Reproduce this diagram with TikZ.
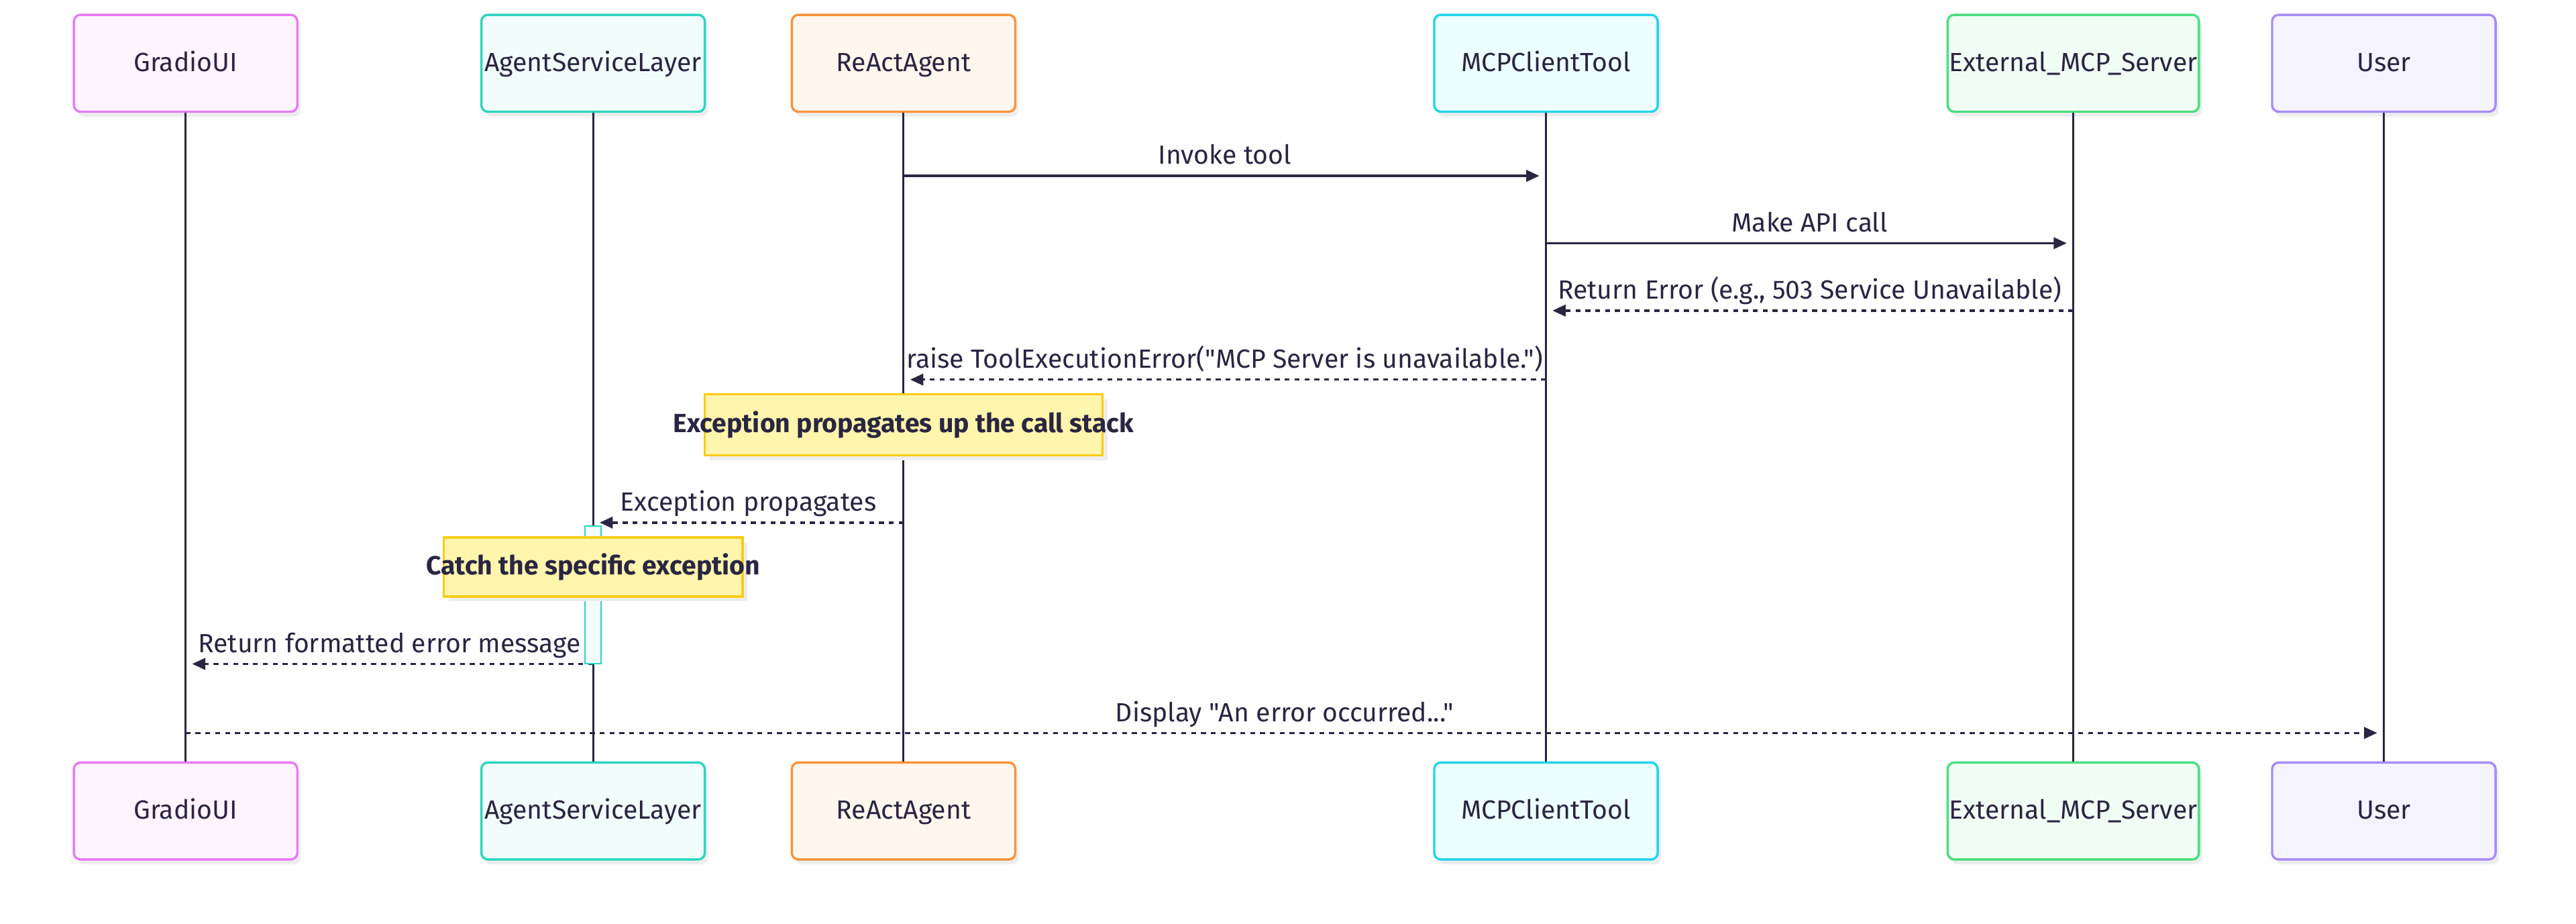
\documentclass[tikz,border=0pt]{standalone}
\usepackage{fontspec}
\setmainfont{Fira Sans}[Ligatures=TeXOff]
\usetikzlibrary{arrows.meta,shadows}
\definecolor{encre}{HTML}{2A2541}
\definecolor{ombre}{HTML}{EDEDED}
\definecolor{noteFond}{HTML}{FFF5AD}
\definecolor{noteBord}{HTML}{FACC15}
\definecolor{gradioBord}{HTML}{E879F9}\definecolor{gradioFond}{HTML}{FDF4FF}
\definecolor{agentBord}{HTML}{2DD4BF}\definecolor{agentFond}{HTML}{F0FDFA}
\definecolor{reactBord}{HTML}{FB923C}\definecolor{reactFond}{HTML}{FFF7ED}
\definecolor{mcpBord}{HTML}{22D3EE}\definecolor{mcpFond}{HTML}{ECFEFF}
\definecolor{extBord}{HTML}{4ADE80}\definecolor{extFond}{HTML}{F0FDF4}
\definecolor{userBord}{HTML}{A78BFA}\definecolor{userFond}{HTML}{F5F3FF}
\newcommand{\texte}{\fontsize{16}{19}\selectfont}
\tikzset{
  acteurBoite/.style={draw, line width=1.4pt, rounded corners=4pt, minimum height=59pt, inner sep=1pt,
    text height=11pt, text depth=1pt,
    drop shadow={shadow xshift=2pt, shadow yshift=-3pt, fill=ombre, opacity=1}},
  vie/.style={encre, line width=1.2pt},
  msgPlein/.style={encre, line width=1.4pt, -{Triangle[length=8pt,width=7pt]}, shorten >=4pt},
  msgTirets/.style={msgPlein, dash pattern=on 3pt off 3pt},
  note/.style={draw=noteBord, fill=noteFond, line width=1.4pt,
    drop shadow={shadow xshift=3pt, shadow yshift=-3pt, fill=ombre, opacity=1}},
  activation/.style={draw=agentBord, fill=agentFond, line width=0.8pt, minimum width=10pt, inner sep=0pt}
}
\newcommand{\acteur}[4]{% nom, x, largeur, texte
  \node[acteurBoite, minimum width=#3pt, draw=#1Bord, fill=#1Fond] (#1H) at (#2,38.5) {#4};
  \node[acteurBoite, minimum width=#3pt, draw=#1Bord, fill=#1Fond] (#1B) at (#2,493.5) {#4};
  \draw[vie] (#1H) -- (#1B);}
\newcommand{\envoi}[5]{% de, vers, y, texte, style
  \coordinate (#1-#3) at (#1H |- 0,#3);
  \coordinate (#2-#3) at (#2H |- 0,#3);
  \draw[#5] (#1-#3) -- (#2-#3) node[midway, anchor=base, yshift=7pt] {#4};}

\begin{document}
\begin{tikzpicture}[x=1pt, y=-1pt, font=\texte, text=encre]
  \useasboundingbox (0,0) rectangle (1568,562);
  \acteur{gradio}{113}{136}{GradioUI}
  \acteur{agent}{361}{136}{AgentServiceLayer}
  \acteur{react}{550}{136}{ReActAgent}
  \acteur{mcp}{941}{136}{MCPClientTool}
  \acteur{ext}{1262}{150}{External\_MCP\_Server}
  \acteur{user}{1451}{136}{User}

  \envoi{react}{mcp}{107}{Invoke tool}{msgPlein}
  \envoi{mcp}{ext}{148}{Make API call}{msgPlein}
  \envoi{ext}{mcp}{189}{Return Error (e.g., 503 Service Unavailable)}{msgTirets}
  \envoi{mcp}{react}{231}{raise ToolExecutionError("MCP Server is unavailable.")}{msgTirets}
  \envoi{react}{agent}{318}{Exception propagates}{msgTirets}
  \envoi{agent}{gradio}{404}{Return formatted error message}{msgTirets}
  \envoi{gradio}{user}{446}{Display "An error occurred..."}{msgTirets}

  \node[activation, minimum height=84pt] (actAgent) at (361,362) {};
  \node[note, minimum width=242pt, minimum height=37pt,
    label={[font=\texte\bfseries]center:Exception propagates up the call stack}] (noteReact) at (550,258.5) {};
  \node[note, minimum width=182pt, minimum height=36pt,
    label={[font=\texte\bfseries]center:Catch the specific exception}] (noteAgent) at (361,345) {};
\end{tikzpicture}
\end{document}
